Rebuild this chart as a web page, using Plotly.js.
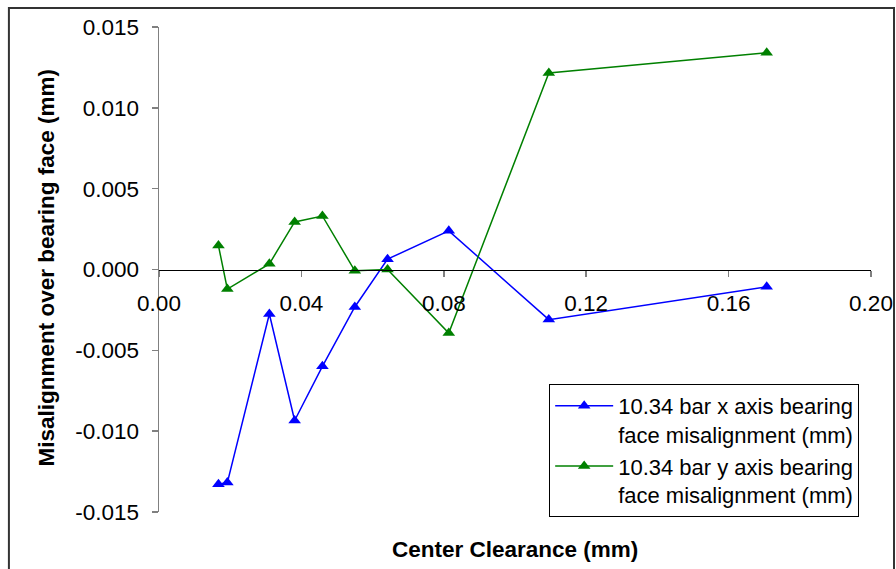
<!DOCTYPE html>
<html>
<head>
<meta charset="utf-8">
<script src="https://cdn.plot.ly/plotly-3.0.1.min.js"></script>
<style>html,body{margin:0;padding:0;background:#fff;}#chart{width:896px;height:569px;}</style>
</head>
<body>
<div id="chart"></div>
<script>
// Data
const clearance = [0.0167, 0.0192, 0.0310, 0.0381, 0.0459, 0.0550, 0.0642, 0.0814, 0.1095, 0.1707];
const xMisalignment = [-0.01329, -0.01318, -0.00275, -0.00934, -0.00599, -0.00232, 0.00064, 0.00239, -0.00310, -0.00107];
const yMisalignment = [0.00148, -0.00121, 0.00035, 0.00294, 0.00331, -0.00008, 0.00000, -0.00393, 0.01216, 0.01340];
const seriesNames = [
  "10.34 bar x axis bearing<br>face misalignment (mm)",
  "10.34 bar y axis bearing<br>face misalignment (mm)"
];
const yTickVals = [0.015, 0.010, 0.005, 0.000, -0.005, -0.010, -0.015];
const yTickText = ["0.015", "0.010", "0.005", "0.000", "-0.005", "-0.010", "-0.015"];
const xTickVals = [0.00, 0.04, 0.08, 0.12, 0.16, 0.20];
const xTickText = ["0.00", "0.04", "0.08", "0.12", "0.16", "0.20"];
const xTitle = "Center Clearance (mm)";
const yTitle = "Misalignment over bearing face (mm)";

const FONT = "Liberation Sans, Arial, sans-serif";

const traces = [
  {
    x: clearance, y: xMisalignment, name: seriesNames[0],
    type: "scatter", mode: "lines+markers",
    line: {color: "#0000FF", width: 1.5},
    marker: {symbol: "triangle-up", size: 11, color: "#0000FF"}
  },
  {
    x: clearance, y: yMisalignment, name: seriesNames[1],
    type: "scatter", mode: "lines+markers",
    line: {color: "#008000", width: 1.5},
    marker: {symbol: "triangle-up", size: 11, color: "#008000"}
  }
];

const layout = {
  width: 896, height: 569,
  margin: {l: 159, r: 25, t: 27, b: 57, pad: 0},
  paper_bgcolor: "#FFFFFF",
  plot_bgcolor: "#FFFFFF",
  font: {family: FONT, size: 22, color: "#000"},
  showlegend: true,
  legend: {
    x: 0.548, y: 0.264, xanchor: "left", yanchor: "top",
    bgcolor: "#FFFFFF", bordercolor: "#000", borderwidth: 1,
    font: {family: FONT, size: 22, color: "#000"},
    valign: "top", itemwidth: 58, tracegroupgap: 0
  },
  xaxis: {
    range: [0, 0.20],
    anchor: "free", position: 0.5,
    tickmode: "array", tickvals: xTickVals, ticktext: xTickText,
    showgrid: false, zeroline: false,
    showline: true, linecolor: "#000", linewidth: 1.5,
    ticks: "outside", ticklen: 6, tickcolor: "#808080", tickwidth: 1.5,
    ticklabelstandoff: 7,
    tickfont: {family: FONT, size: 22.5, color: "#000"}
  },
  yaxis: {
    range: [-0.015, 0.015],
    tickmode: "array", tickvals: yTickVals, ticktext: yTickText,
    showgrid: false, zeroline: false,
    showline: true, linecolor: "#808080", linewidth: 1.5,
    ticks: "outside", ticklen: 6, tickcolor: "#808080", tickwidth: 1.5,
    ticklabelstandoff: 8,
    tickfont: {family: FONT, size: 22.5, color: "#000"}
  },
  annotations: [
    {
      text: "<b>" + xTitle + "</b>", xref: "paper", yref: "paper",
      x: 0.5, y: -0.077, xanchor: "center", yanchor: "middle",
      showarrow: false, font: {family: FONT, size: 22.5, color: "#000"}
    },
    {
      text: "<b>" + yTitle + "</b>", xref: "paper", yref: "paper",
      x: -0.158, y: 0.503, xanchor: "center", yanchor: "middle",
      textangle: -90, showarrow: false, font: {family: FONT, size: 22.5, color: "#000"}
    }
  ],
  shapes: [
    {
      type: "rect", xref: "paper", yref: "paper", layer: "below",
      x0: -0.2108, x1: 1.0323, y0: -0.14, y1: 1.0392,
      line: {color: "#333333", width: 2}, fillcolor: "rgba(0,0,0,0)"
    }
  ]
};

Plotly.newPlot("chart", traces, layout, {staticPlot: true, displayModeBar: false});
</script>
</body>
</html>
